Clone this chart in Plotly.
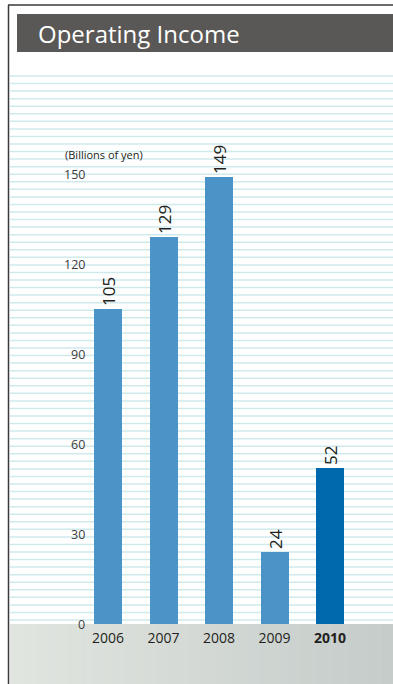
import plotly.graph_objects as go

years = ["2006", "2007", "2008", "2009", "2010"]
year_labels = ["2006", "2007", "2008", "2009", "<b>2010</b>"]
income = [105, 129, 149, 24, 52]
bar_colors = ["#4A94C7", "#4A94C7", "#4A94C7", "#4A94C7", "#0068AC"]
y_ticks = [0, 30, 60, 90, 120, 150]

W, H = 393, 684
L, R, T, B = 10, 0, 74, 60
PW, PH = W - L - R, H - T - B
FONT = "Open Sans"

fig = go.Figure()
fig.add_trace(go.Bar(
    x=years, y=income, width=0.505,
    marker=dict(color=bar_colors, line=dict(width=0)),
    text=[str(v) for v in income], textposition="outside", textangle=-90,
    constraintext="none", cliponaxis=False,
    textfont=dict(family=FONT, size=17, color="#231F20"),
    hoverinfo="skip",
))

def px_x(p):
    return (p - L) / PW

def px_y(p):
    return (H - B - p) / PH

shapes = []
# ruled background lines
n_lines = 73
top_line, bot_line = 76.0, 620.0
step = (bot_line - top_line) / (n_lines - 1)
for i in range(n_lines):
    yy = top_line + i * step
    shapes.append(dict(type="line", xref="paper", yref="paper",
                       x0=px_x(10), x1=px_x(W), y0=px_y(yy), y1=px_y(yy),
                       line=dict(color="#CFE9EC", width=1.5), layer="below"))
# bottom gradient band
c0 = (0xE1, 0xE5, 0xE0)
c1 = (0xC5, 0xCC, 0xC9)
n_strips = 60
x_start = 10
for i in range(n_strips):
    t = i / (n_strips - 1)
    col = "rgb(%d,%d,%d)" % tuple(round(a + (b - a) * t) for a, b in zip(c0, c1))
    xa = x_start + (W - x_start) * i / n_strips
    xb = x_start + (W - x_start) * (i + 1) / n_strips + 0.6
    shapes.append(dict(type="rect", xref="paper", yref="paper",
                       x0=px_x(xa), x1=px_x(min(xb, W)), y0=px_y(H), y1=px_y(624),
                       fillcolor=col, line=dict(width=0), layer="below"))
# title bar
shapes.append(dict(type="rect", xref="paper", yref="paper",
                   x0=px_x(17), x1=px_x(W), y0=px_y(52), y1=px_y(14),
                   fillcolor="#595856", line=dict(width=0), layer="above"))
# frame lines
shapes.append(dict(type="line", xref="paper", yref="paper",
                   x0=px_x(8.5), x1=px_x(8.5), y0=px_y(H), y1=px_y(5),
                   line=dict(color="#3A3A3A", width=1.5)))
shapes.append(dict(type="line", xref="paper", yref="paper",
                   x0=px_x(8), x1=px_x(W), y0=px_y(5), y1=px_y(5),
                   line=dict(color="#3A3A3A", width=1.5)))

annotations = [
    dict(text="Operating Income", xref="paper", yref="paper",
         x=px_x(36), y=px_y(33), xanchor="left", yanchor="middle",
         showarrow=False, font=dict(family=FONT, size=24, color="#FFFFFF")),
    dict(text="(Billions of yen)", xref="paper", yref="paper",
         x=px_x(63), y=px_y(155), xanchor="left", yanchor="middle",
         showarrow=False, font=dict(family=FONT, size=11, color="#231F20")),
]
for v in y_ticks:
    annotations.append(dict(text=str(v), xref="paper", yref="y",
                            x=px_x(87), y=v, xanchor="right", yanchor="middle",
                            showarrow=False,
                            font=dict(family=FONT, size=12.5, color="#3C3C3C")))

fig.update_layout(
    width=W, height=H,
    margin=dict(l=L, r=R, t=T, b=B, pad=0),
    paper_bgcolor="white", plot_bgcolor="rgba(0,0,0,0)",
    showlegend=False, bargap=0,
    shapes=shapes, annotations=annotations,
    xaxis=dict(range=[-1.766, 5.135], type="category",
               tickmode="array", tickvals=years, ticktext=year_labels,
               ticks="", showgrid=False, zeroline=False, showline=False,
               ticklabelstandoff=4,
               tickfont=dict(family=FONT, size=14, color="#231F20")),
    yaxis=dict(range=[0, 550 / 3], showticklabels=False, showgrid=False,
               zeroline=False, showline=False, ticks=""),
)

fig.write_html("out.html", config={"displayModeBar": False},
               post_script="document.body.style.margin='0';")
